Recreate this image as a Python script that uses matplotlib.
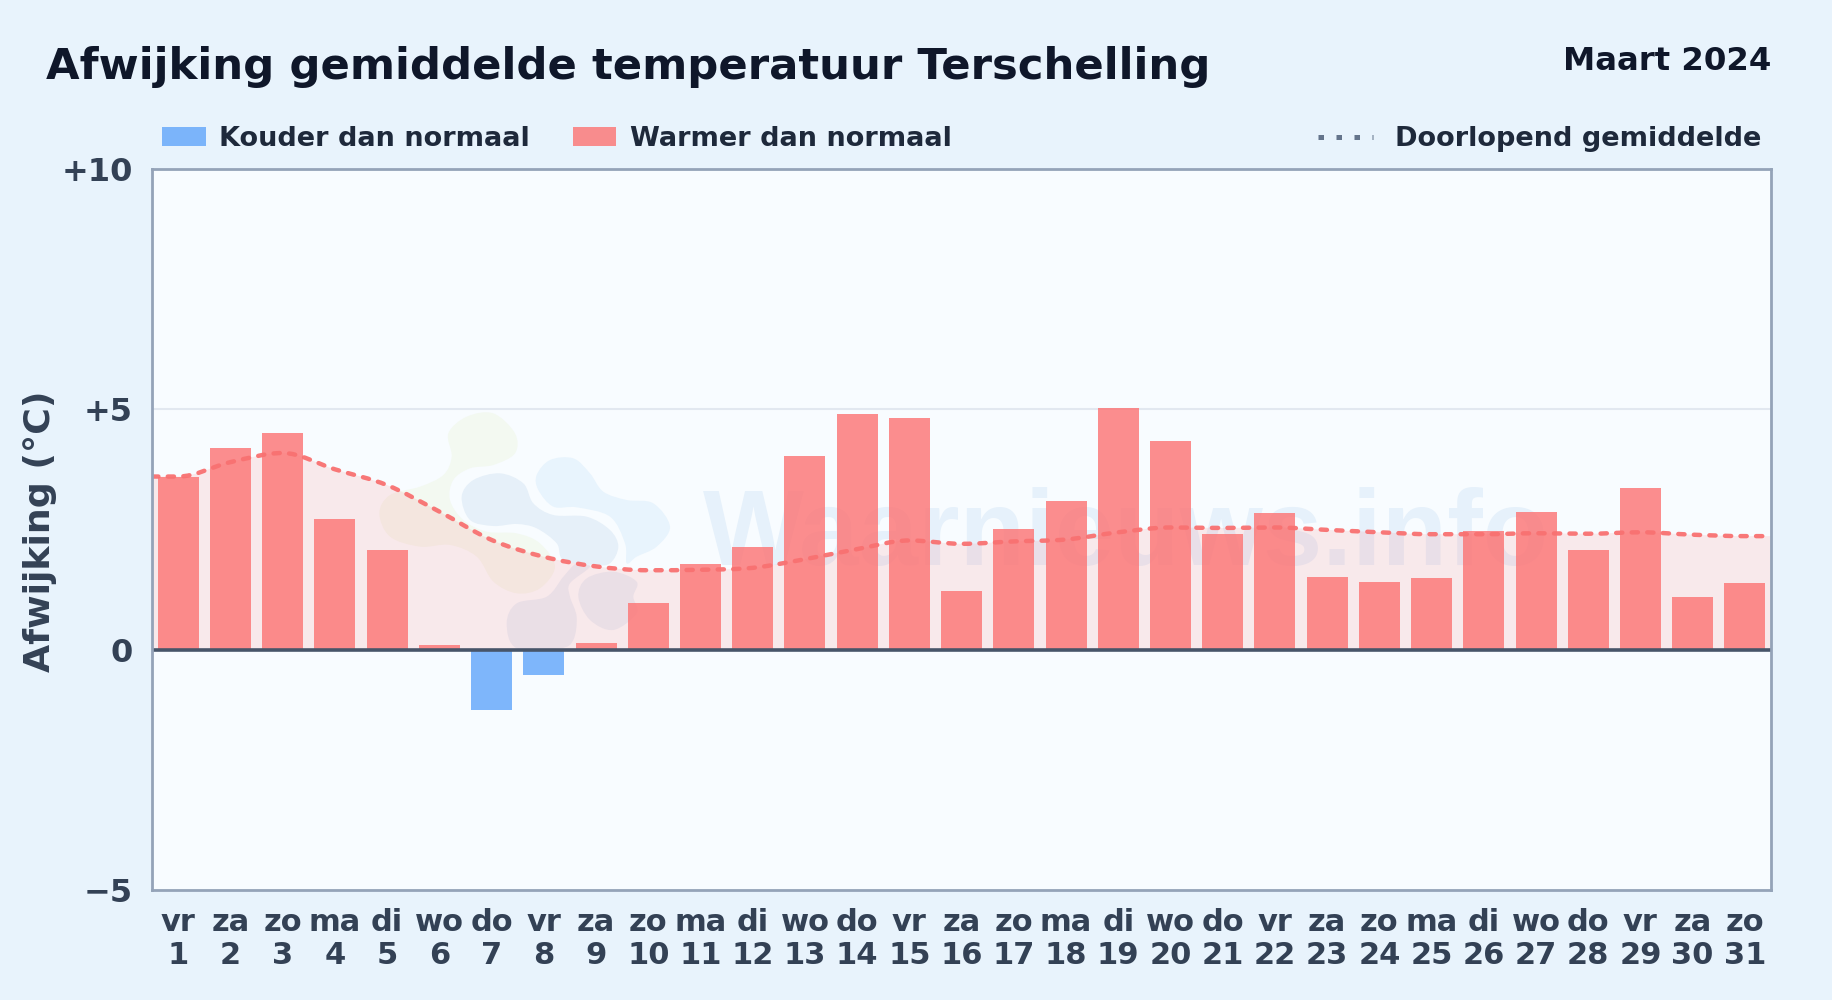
import numpy as np
import matplotlib
matplotlib.use("Agg")
import matplotlib.pyplot as plt
from matplotlib.path import Path
from matplotlib.patches import PathPatch, Rectangle
from matplotlib.lines import Line2D

plt.rcParams['font.family'] = ['DejaVu Sans']

weekdays = ["vr","za","zo","ma","di","wo","do","vr","za","zo","ma","di","wo","do","vr","za",
            "zo","ma","di","wo","do","vr","za","zo","ma","di","wo","do","vr","za","zo"]
days = list(range(1, 32))
anomaly = [3.6,4.2,4.5,2.72,2.07,0.1,-1.25,-0.53,0.13,0.97,1.78,2.14,4.02,4.9,4.82,1.22,
           2.5,3.09,5.03,4.34,2.41,2.85,1.51,1.41,1.48,2.46,2.87,2.07,3.36,1.09,1.39]
running_mean = [3.6,3.9,4.09,3.75,3.42,2.87,2.28,1.93,1.73,1.65,1.66,1.70,1.88,2.09,2.27,2.2,
                2.25,2.29,2.44,2.54,2.53,2.54,2.49,2.44,2.4,2.4,2.42,2.41,2.44,2.39,2.36]
y_ticks = [-5, 0, 5, 10]
y_labels = ["\u22125", "0", "+5", "+10"]

W, H = 1832, 1000
PAGE = "#e8f3fc"; PLOT = "#f8fcff"; RED = "#fd7272"; LINE = "#f87171"; BLUE = "#60a5fa"
L, R, T, B = 152.2, 1771, 169.0, 889.8

fig = plt.figure(figsize=(W/100, H/100), dpi=100, facecolor=PAGE)
ov = fig.add_axes([0, 0, 1, 1], zorder=0)
ov.set_xlim(0, W); ov.set_ylim(H, 0); ov.axis("off")
ax = fig.add_axes([L/W, 1-B/H, (R-L)/W, (B-T)/H], zorder=1)
ax.patch.set_alpha(0)

ov.add_patch(Rectangle((L, T), R-L, B-T, fc=PLOT, ec="none", zorder=0))

def blob(pts, color):
    p = np.array(pts, float)
    p = np.c_[360 + p[:, 0]/3, 400 + p[:, 1]/3]
    n = len(p)
    verts = [p[0]]; codes = [Path.MOVETO]
    for i in range(n):
        a, b, c, d = p[i-1], p[i], p[(i+1) % n], p[(i+2) % n]
        verts += [b + (c-a)/6, c - (d-b)/6, c]
        codes += [Path.CURVE4]*3
    ov.add_patch(PathPatch(Path(verts, codes), fc=color, ec="none", zorder=1))

blob([(265,100),(320,50),(400,40),(465,100),(465,160),(400,195),(330,205),(280,240),(270,300),
      (310,360),(380,395),(470,400),(540,430),(585,500),(540,565),(470,580),(400,545),(350,470),
      (270,435),(180,440),(90,410),(58,340),(90,285),(180,260),(250,225),(275,170)], "#f3f9f1")
blob([(530,225),(570,180),(640,175),(690,220),(730,275),(800,300),(880,310),(930,380),(890,440),
      (830,470),(800,490),(795,430),(750,350),(650,322),(580,320),(535,270)], "#e8f4fd")
blob([(305,290),(340,240),(420,220),(490,250),(520,310),(580,345),(680,350),(750,390),(775,440),
      (750,490),(700,495),(610,480),(590,430),(530,385),(470,372),(400,378),(330,360)], "#e6f0f9")
blob([(440,670),(470,610),(560,590),(610,530),(650,490),(690,500),(630,550),(630,590),(650,650),
      (640,720),(600,745),(470,745)], "#e8f1f9")
blob([(655,590),(680,535),(760,515),(830,545),(820,590),(830,640),(760,690),(690,660)], "#e8f1f9")

ov.text(703, 565, "Waarnieuws.info", fontsize=77, fontweight="bold", color="#e6f1fb",
        family="Liberation Sans", ha="left", va="baseline", zorder=2)

x = np.arange(len(anomaly))
bar_colors = [RED if v >= 0 else BLUE for v in anomaly]
ax.bar(x, anomaly, width=0.785, color=bar_colors, alpha=0.8, zorder=3, linewidth=0)
ax.set_xlim(-0.5, len(anomaly)-0.5)
ax.set_ylim(-5, 10)

xs = np.r_[ax.get_xlim()[0], x, ax.get_xlim()[1]]
ys = np.r_[running_mean[0], running_mean, running_mean[-1]]
n = len(xs)
m = np.zeros(n)
d = np.diff(ys)/np.diff(xs)
for i in range(1, n-1):
    m[i] = 0 if d[i-1]*d[i] <= 0 else (d[i-1]+d[i])/2
verts = [(xs[0], ys[0])]; codes = [Path.MOVETO]
for i in range(n-1):
    h = xs[i+1]-xs[i]
    verts += [(xs[i]+h/3, ys[i]+m[i]*h/3), (xs[i+1]-h/3, ys[i+1]-m[i+1]*h/3), (xs[i+1], ys[i+1])]
    codes += [Path.CURVE4]*3
ax.add_patch(PathPatch(Path(verts, codes), fc="none", ec=LINE, lw=3.2, alpha=0.95, zorder=5,
                       linestyle=(0, (1.4, 2.1)), capstyle="round", joinstyle="round"))
fv = verts + [(xs[-1], 0), (xs[0], 0), (xs[0], ys[0])]
fc = codes + [Path.LINETO, Path.LINETO, Path.LINETO]
ax.add_patch(PathPatch(Path(fv, fc), fc="#ff6b6b", alpha=0.13, ec="none", zorder=2))

ax.axhline(0, color="#475569", lw=2.6, zorder=6)
ax.axhline(5, color="#e2e8f0", lw=1.5, zorder=1)

for s in ax.spines.values():
    s.set_color("#94a3b8"); s.set_linewidth(2.0); s.set_zorder(7)

ax.set_yticks(y_ticks, y_labels)
ax.set_xticks(x, [f"{w}\n{dn}" for w, dn in zip(weekdays, days)])
ax.tick_params(axis="y", length=0, pad=14, labelsize=23, labelcolor="#334155")
ax.tick_params(axis="x", length=0, pad=13, labelsize=22, labelcolor="#334155")
for t in ax.get_yticklabels() + ax.get_xticklabels():
    t.set_fontweight("bold")
for t in ax.get_xticklabels():
    t.set_linespacing(1.2)

ov.text(46, 79, "Afwijking gemiddelde temperatuur Terschelling", fontsize=31.2, fontweight="bold",
        color="#0f172a", ha="left", va="baseline", zorder=9)
ov.text(R, 70, "Maart 2024", fontsize=23.3, fontweight="bold", color="#0f172a",
        ha="right", va="baseline", zorder=9)
ov.text(40, 531, "Afwijking (\u00b0C)", fontsize=26.2, fontweight="bold", color="#334155",
        rotation=90, ha="center", va="center", zorder=9)

ov.add_patch(Rectangle((162, 127), 44, 19, fc=BLUE, alpha=0.8, ec="none", zorder=9))
ov.text(219, 146, "Kouder dan normaal", fontsize=19.5, fontweight="bold", color="#1e293b", va="baseline", zorder=9)
ov.add_patch(Rectangle((573, 127), 43, 19, fc=RED, alpha=0.8, ec="none", zorder=9))
ov.text(630, 146, "Warmer dan normaal", fontsize=19.5, fontweight="bold", color="#1e293b", va="baseline", zorder=9)
ov.add_line(Line2D([1318, 1373], [137, 137], color="#64748b", lw=3.6, zorder=9,
                   linestyle=(0, (1.1, 2.5)), dash_capstyle="butt"))
ov.text(1395, 146, "Doorlopend gemiddelde", fontsize=19.5, fontweight="bold", color="#1e293b", va="baseline", zorder=9)

fig.savefig("out.png", dpi=100, facecolor=PAGE)
